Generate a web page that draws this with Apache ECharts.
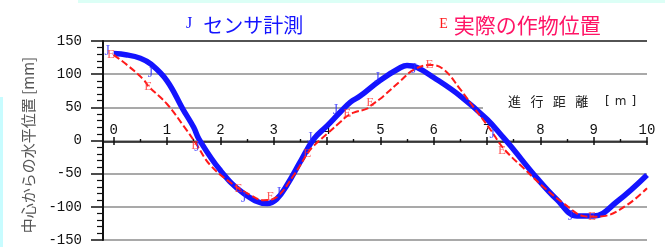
<!DOCTYPE html>
<html>
<head>
<meta charset="utf-8">
<script src="https://cdn.jsdelivr.net/npm/echarts@6/dist/echarts.min.js"></script>
<style>
  html, body { margin: 0; padding: 0; background: #fff; }
  #chart { width: 665px; height: 247px; }
</style>
</head>
<body>
<div id="chart"></div>
<script>
// 系列名
const nameSensor = 'センサ計測'
const nameActual = '実際の作物位置'

// x軸の範囲と目盛
const xMin = -0.2
const xMax = 10
const xMajor = [0, 1, 2, 3, 4, 5, 6, 7, 8, 9, 10]
const xMinor = [0.5, 1.5, 2.5, 3.5, 4.5, 5.5, 6.5, 7.5, 8.5, 9.5]

// センサ計測 (青線)
const sensorX = [0, 0.25, 0.5, 0.7, 1.0, 1.3, 1.5, 1.6, 2.0, 2.44, 2.88, 3.06, 3.25, 3.5, 3.75, 4.0, 4.25, 4.44, 4.62, 5.0, 5.38, 5.5, 5.69, 6.0, 6.5, 7.0, 7.3, 7.44, 7.94, 8.31, 8.69, 9.0, 9.44, 10]
const sensorY = [131, 129, 124, 115, 90, 47, 20, 2, -45, -80, -95, -88, -67, -32, 2, 22, 43, 58, 67, 91, 110, 113, 110, 95, 67, 32, 5, -8, -57, -89, -114, -114, -92, -52]

// 実際の作物位置 (赤破線)
const actualX = [0, 0.25, 0.56, 0.65, 1.0, 1.31, 1.53, 1.81, 2.25, 2.56, 2.81, 3.06, 3.38, 3.63, 3.75, 4.0, 4.25, 4.38, 4.5, 4.75, 4.81, 5.0, 5.06, 5.38, 5.63, 5.94, 6.19, 6.5, 6.75, 7.06, 7.31, 7.69, 8.06, 8.44, 8.81, 8.97, 9.19, 9.63, 10]
const actualY = [129, 114, 92, 82, 55, 22, -3, -37, -67, -82, -90, -85, -52, -20, -8, 10, 28, 37, 42, 48, 52, 63, 67, 90, 107, 114, 107, 77, 50, 17, -12, -42, -70, -95, -114, -115, -114, -97, -72]

// マーカー位置 (J / E)
const markJX = [-0.12, 0.69, 1.56, 2.44, 3.09, 3.68, 4.16, 4.94, 5.63, 7.1, 8.57]
const markJY = [134, 102, -10, -87, -79, 3, 45, 94, 107, 10, -114]
const markEX = [-0.05, 0.65, 1.53, 2.34, 2.94, 3.63, 4.38, 4.81, 5.92, 7.28, 8.97]
const markEY = [129, 82, -7, -72, -84, -20, 40, 57, 114, -15, -114]

const blue = '#1414ff'
const red = '#ff1a1a'
const pink = '#ff1466'
const axisColor = '#111'
const monoFont = 'Liberation Mono'
const cjkFont = 'Noto Sans CJK JP'

const gridTop = 41
const gridHeight = 202
// x軸を y=0 の位置まで内側へずらす量
const zeroShift = -gridHeight / 2

function zip(xs, ys) {
  return xs.map((x, i) => [x, ys[i]])
}

function xAxisBase(position, showLine) {
  return {
    type: 'value',
    min: xMin,
    max: xMax,
    position: position,
    offset: zeroShift,
    splitLine: { show: false },
    axisLine: { show: showLine, onZero: false, lineStyle: { color: axisColor, width: 1.5 } },
    axisLabel: { show: false }
  }
}

const chart = echarts.init(document.getElementById('chart'))
chart.setOption({
  backgroundColor: '#fff',
  animation: false,
  grid: { left: 103, top: gridTop, width: 544, height: gridHeight, containLabel: false },
  legend: {
    data: [nameSensor, nameActual],
    left: 176,
    top: 10,
    icon: 'none',
    itemWidth: 0,
    itemHeight: 0,
    itemGap: 131,
    selectedMode: false,
    formatter: name => name === nameSensor
      ? '{j|J}{ts|' + name + '}'
      : '{e|E}{tc|' + name + '}',
    textStyle: {
      rich: {
        j: { fontFamily: 'Liberation Serif', fontSize: 16, color: blue, padding: [0, 11, 3, 0] },
        ts: { fontFamily: cjkFont, fontSize: 20, color: blue },
        e: { fontFamily: 'Liberation Serif', fontSize: 14, color: red, padding: [0, 6, 2, 0] },
        tc: { fontFamily: cjkFont, fontSize: 21, color: pink }
      }
    }
  },
  xAxis: [
    Object.assign(xAxisBase('top', true), {
      axisTick: { customValues: xMajor, length: 5, lineStyle: { color: axisColor, width: 1.5 } },
      axisLabel: { show: true, customValues: xMajor, margin: 5, color: axisColor, fontFamily: monoFont, fontSize: 14 }
    }),
    Object.assign(xAxisBase('bottom', false), {
      axisTick: { customValues: xMajor, length: 6, lineStyle: { color: axisColor, width: 1.5 } }
    }),
    Object.assign(xAxisBase('bottom', false), {
      axisTick: { customValues: xMinor, length: 3, lineStyle: { color: axisColor, width: 1.2 } }
    }),
    Object.assign(xAxisBase('top', false), {
      axisTick: { customValues: xMinor, length: 3, lineStyle: { color: axisColor, width: 1.2 } }
    })
  ],
  yAxis: {
    type: 'value',
    min: -150,
    max: 150,
    interval: 50,
    axisLine: { show: true, onZero: false, lineStyle: { color: axisColor, width: 2 } },
    axisTick: { show: true, length: 12, lineStyle: { color: axisColor, width: 1.5 } },
    minorTick: { show: true, splitNumber: 5, length: 6, lineStyle: { color: axisColor, width: 1.2 } },
    axisLabel: { margin: 21, color: axisColor, fontFamily: monoFont, fontSize: 14 },
    splitLine: {
      show: true,
      lineStyle: {
        color: ['#8c8c8c', '#8c8c8c', '#8c8c8c', '#8c8c8c', '#8c8c8c', '#8c8c8c', '#1a1a1a'],
        width: 1.5
      }
    }
  },
  graphic: [
    { type: 'rect', left: 78, top: 0, z: 1, shape: { width: 587, height: 3 }, style: { fill: '#dcfff6' } },
    { type: 'rect', left: 0, top: 97, z: 1, shape: { width: 3, height: 150 }, style: { fill: '#c8fcff' } },
    // y軸タイトル
    {
      type: 'text',
      x: 28,
      y: 145,
      rotation: Math.PI / 2,
      z: 1,
      style: {
        text: '中心からの水平位置 [mm]',
        fontFamily: cjkFont,
        fontSize: 15,
        fill: '#555',
        align: 'center',
        verticalAlign: 'middle'
      }
    },
    // x軸タイトル (背景で目盛線を隠す)
    { type: 'rect', left: 483, top: 99, z: 1, shape: { width: 167, height: 14 }, style: { fill: '#fff' } },
    {
      type: 'text',
      left: 508,
      top: 95,
      z: 1,
      style: {
        text: '{c|進}{c|行}{c|距}{c|離}{g| }{b|[}{b|m}{b|]}',
        fill: '#222',
        rich: {
          c: { fontFamily: cjkFont, fontSize: 13, padding: [0, 4.7, 0, 4.7], fill: '#222' },
          g: { fontSize: 13, padding: [0, 6, 0, 0] },
          b: { fontFamily: 'DejaVu Sans', fontSize: 12, padding: [0, 2.5, 0, 2.5], fill: '#222' }
        }
      }
    }
  ],
  series: [
    {
      name: nameSensor,
      type: 'line',
      smooth: 0.4,
      showSymbol: false,
      data: zip(sensorX, sensorY),
      lineStyle: { color: blue, width: 5.5 },
      itemStyle: { color: blue },
      z: 2
    },
    {
      name: nameActual,
      type: 'line',
      smooth: 0.4,
      showSymbol: false,
      data: zip(actualX, actualY),
      lineStyle: { color: red, width: 2, type: [7, 3] },
      itemStyle: { color: red },
      z: 3
    },
    {
      name: 'J',
      type: 'scatter',
      symbolSize: 1,
      itemStyle: { color: 'rgba(0,0,0,0)' },
      data: zip(markJX, markJY),
      label: { show: true, position: 'inside', formatter: 'J', color: '#2a2aff', fontFamily: 'Liberation Serif', fontSize: 14 },
      z: 4
    },
    {
      name: 'E',
      type: 'scatter',
      symbolSize: 1,
      itemStyle: { color: 'rgba(0,0,0,0)' },
      data: zip(markEX, markEY),
      label: { show: true, position: 'inside', formatter: 'E', color: '#ff3333', fontFamily: 'Liberation Serif', fontSize: 13 },
      z: 4
    }
  ]
})
</script>
</body>
</html>
